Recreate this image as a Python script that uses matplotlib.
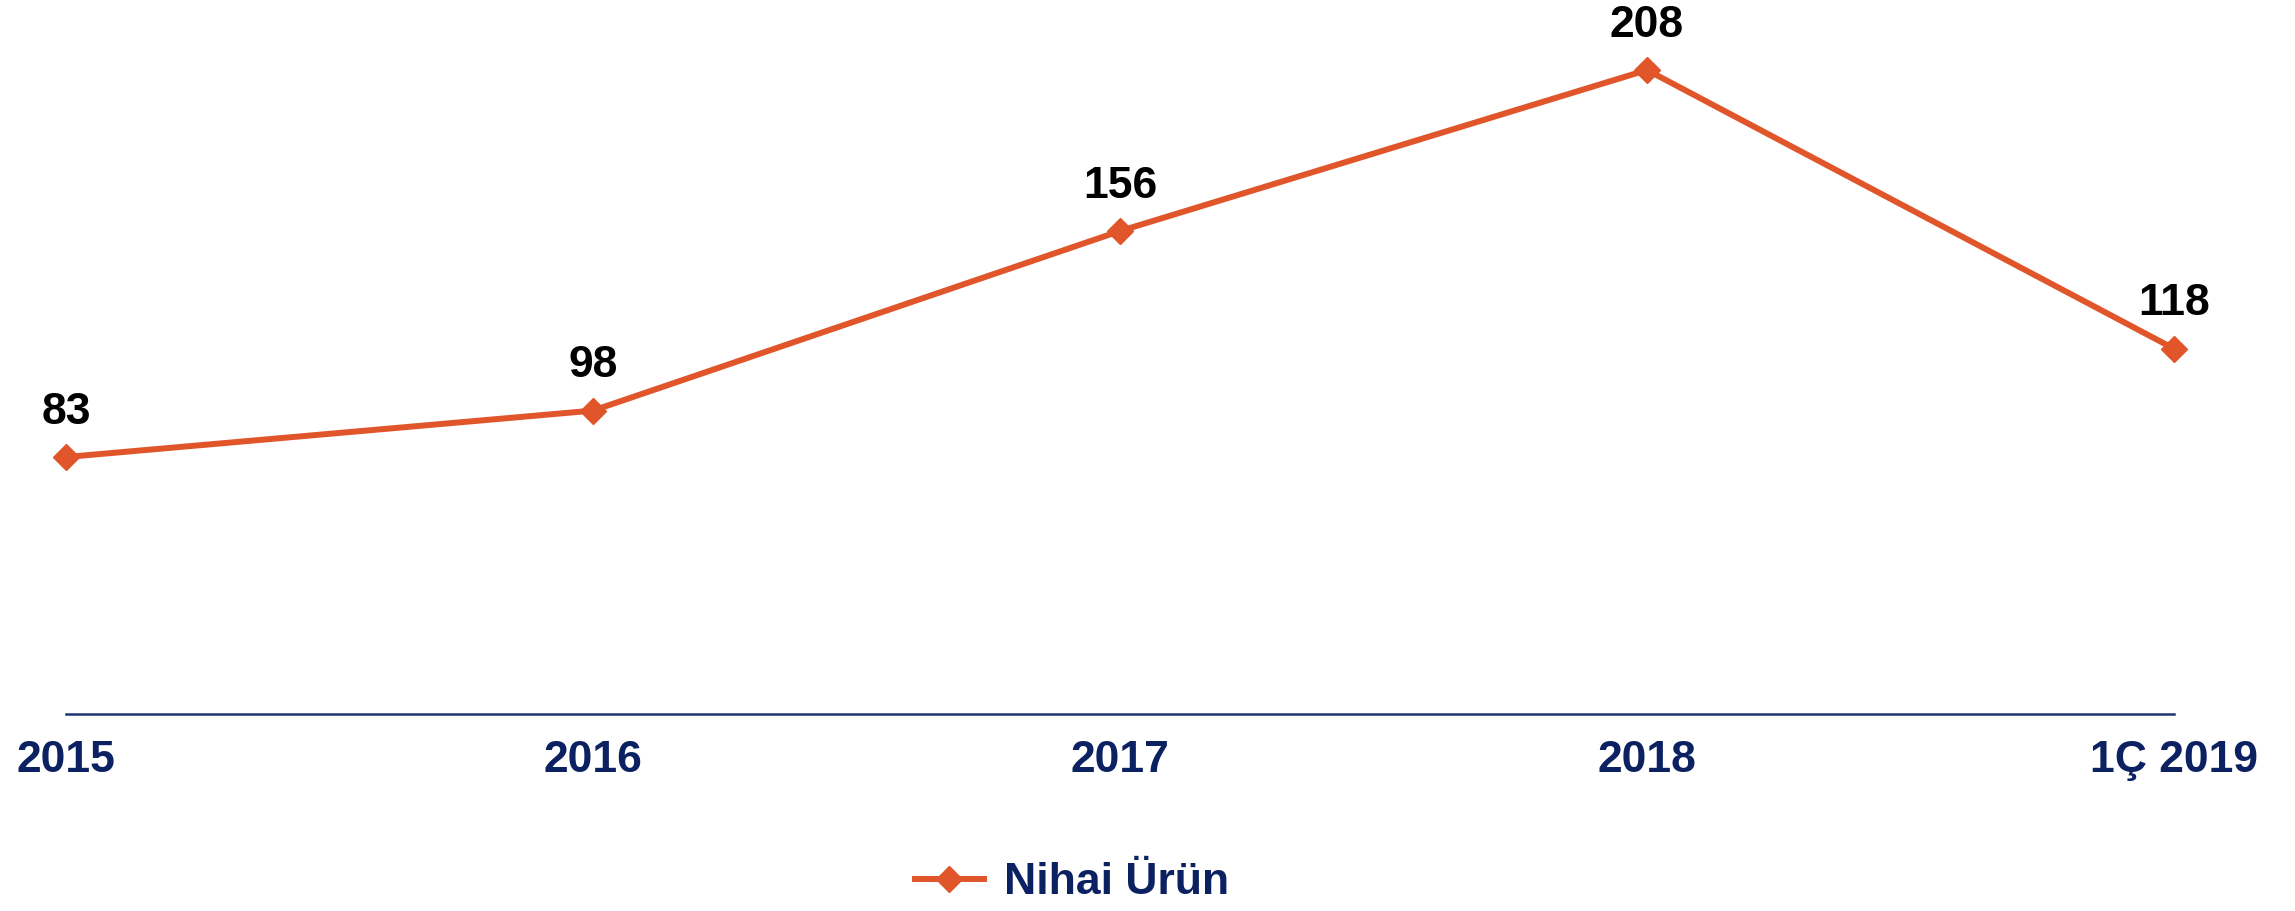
import matplotlib
matplotlib.use("Agg")
import matplotlib.pyplot as plt

# Data
categories = ["2015", "2016", "2017", "2018", "1Ç 2019"]
values = [83, 98, 156, 208, 118]
series_name = "Nihai Ürün"

LINE_COLOR = "#E0562A"
NAVY = "#0B2161"

plt.rcParams["font.family"] = ["Liberation Sans", "DejaVu Sans"]

fig = plt.figure(figsize=(22.95, 9.11), dpi=100)
ax = fig.add_axes([66 / 2295, (911 - 714) / 911, (2174 - 66) / 2295, 714 / 911])

x = list(range(len(categories)))
ax.plot(x, values, color=LINE_COLOR, linewidth=4.3, marker="D", markersize=13,
        markerfacecolor=LINE_COLOR, markeredgecolor=LINE_COLOR, label=series_name,
        clip_on=False, zorder=3)

# data labels above each point
for xi, v in zip(x, values):
    ax.annotate(str(v), (xi, v), xytext=(0, 24), textcoords="offset points",
                ha="center", va="baseline", fontsize=32, fontweight="bold",
                color="black", annotation_clip=False)

ax.set_xlim(0, len(categories) - 1)
ax.set_ylim(0, 714 / 3.096)

ax.set_xticks(x)
ax.set_xticklabels(categories, fontsize=32, fontweight="bold", color=NAVY)
ax.tick_params(axis="x", length=0, pad=19)
ax.set_yticks([])

for side in ["top", "right", "left"]:
    ax.spines[side].set_visible(False)
ax.spines["bottom"].set_color("#1F3470")
ax.spines["bottom"].set_linewidth(1.8)

leg = ax.legend(loc="center", bbox_to_anchor=(0.467, 0.031), bbox_transform=fig.transFigure,
                frameon=False, handlelength=1.55, handletextpad=0.45,
                prop={"size": 32, "weight": "bold"})
for t in leg.get_texts():
    t.set_color(NAVY)

fig.savefig("out.png", dpi=100)
plt.close(fig)
